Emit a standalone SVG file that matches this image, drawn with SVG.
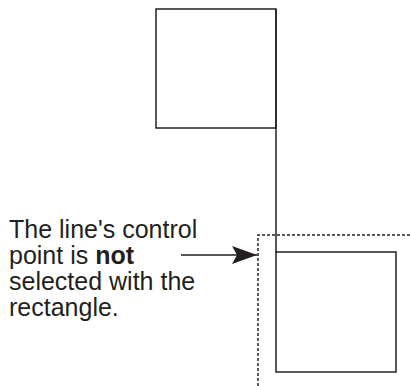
<svg xmlns="http://www.w3.org/2000/svg" width="410" height="386" viewBox="0 0 410 386">
<style>
.shape{fill:#fff;stroke:#231f20;stroke-width:1.5}
.line{fill:none;stroke:#231f20;stroke-width:1.5}
.sel{fill:none;stroke:#231f20;stroke-width:1.5;stroke-dasharray:3 2}
.lbl{font-family:"Liberation Sans",Arial,sans-serif;font-size:25px;fill:#231f20}
</style>
<defs>
<marker id="ah" markerWidth="26" markerHeight="20" refX="25" refY="10" orient="auto" markerUnits="userSpaceOnUse">
<path d="M0,1 L25,10 L0,19 L5,10 Z" fill="#231f20"/>
</marker>
</defs>
<rect width="410" height="386" fill="#fff"/>
<g id="rect-top"><rect class="shape" x="156" y="9" width="120" height="119"/></g>
<g id="rect-bottom"><rect class="shape" x="276" y="252" width="120" height="120"/></g>
<g id="selection"><path class="sel" d="M410,235 H258 V386"/></g>
<g id="connectors">
<path class="line" d="M276,9 V252"/>
<path class="line" d="M181,255 H257" marker-end="url(#ah)"/>
</g>
<g id="label">
<text class="lbl" x="9" y="238">The line's control</text>
<text class="lbl" x="9" y="264">point is <tspan font-weight="bold">not</tspan></text>
<text class="lbl" x="9" y="290">selected with the</text>
<text class="lbl" x="9" y="316">rectangle.</text>
</g>
</svg>
